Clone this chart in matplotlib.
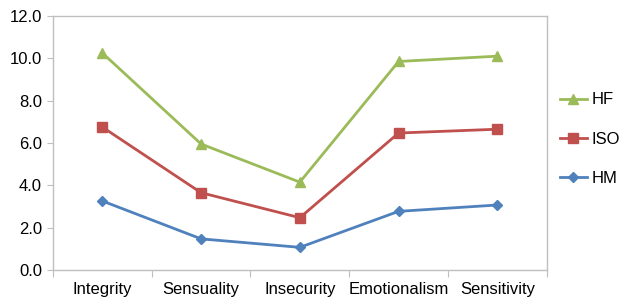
import matplotlib
matplotlib.use("Agg")
import matplotlib.pyplot as plt
import numpy as np

categories = ["Integrity", "Sensuality", "Insecurity", "Emotionalism", "Sensitivity"]
hf = [10.25, 5.95, 4.15, 9.85, 10.1]
iso = [6.75, 3.65, 2.47, 6.47, 6.65]
hm = [3.26, 1.47, 1.07, 2.77, 3.07]
yticks = [0, 2, 4, 6, 8, 10, 12]

plt.rcParams['font.family'] = ['Liberation Sans', 'DejaVu Sans']

fig = plt.figure(figsize=(6.28, 3.01), dpi=100)
ax = fig.add_axes([0.0844, 0.103, 0.7861, 0.844])

x = np.arange(len(categories))
l1, = ax.plot(x, hf, color="#9BBB59", marker="^", markersize=7, linewidth=2, label="HF")
l2, = ax.plot(x, iso, color="#C0504D", marker="s", markersize=6.5, linewidth=2, label="ISO")
l3, = ax.plot(x, hm, color="#4F81BD", marker="D", markersize=5, linewidth=2, label="HM")

ax.set_xlim(-0.5, len(categories) - 0.5)
ax.set_ylim(0, 12)
ax.set_yticks(yticks)
ax.set_yticklabels([f"{v:.1f}" for v in yticks], fontsize=12)

ax.set_xticks(np.arange(-0.5, len(categories), 1.0))
ax.set_xticklabels([])
ax.set_xticks(x, minor=True)
ax.set_xticklabels(categories, minor=True, fontsize=12)
ax.tick_params(axis='x', which='minor', length=0, pad=9)
ax.tick_params(axis='x', which='major', length=5, color="#BFBFBF", direction='out')
ax.tick_params(axis='y', length=4, color="#BFBFBF", direction='out', pad=4)

for s in ax.spines.values():
    s.set_color("#BFBFBF")
    s.set_linewidth(1)

ax.legend(handles=[l1, l2, l3], loc='center left', bbox_to_anchor=(0.891, 0.538),
          bbox_transform=fig.transFigure, frameon=False, fontsize=12,
          handlelength=1.65, handletextpad=0.25, labelspacing=1.45, borderaxespad=0,
          borderpad=0)

fig.savefig("out.png", dpi=100)
